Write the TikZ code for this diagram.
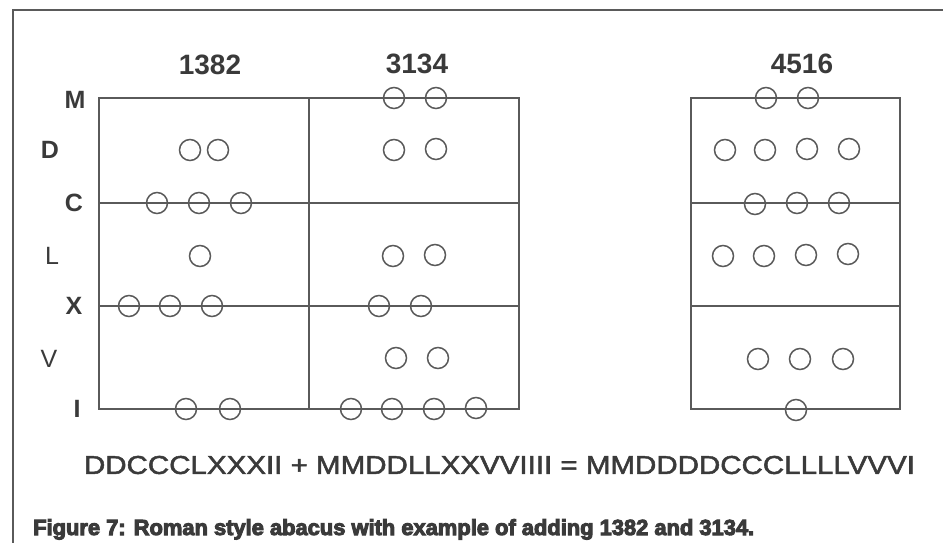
\documentclass[tikz,border=0pt]{standalone}
\usepackage{fontspec}
\setmainfont{Liberation Sans}
\usepackage{graphicx}
\definecolor{ink}{HTML}{3A3A3A}
\definecolor{rule}{HTML}{5A5A5A}
\newcommand{\heavytext}[2]{\special{pdf:literal direct 2 Tr #1 w}#2\special{pdf:literal direct 0 Tr}}
\begin{document}
\begin{tikzpicture}[x=1pt,y=-1pt,
  gridline/.style={draw=rule,line width=1.8pt},
  frameline/.style={draw=rule,line width=2pt},
  bead/.style={circle,draw=rule,line width=1.5pt,minimum size=21pt,inner sep=0pt},
  header/.style={inner sep=0pt,text=ink,font=\fontsize{28}{28}\selectfont\bfseries},
  rowlab/.style={inner sep=0pt,text=ink,font=\fontsize{25}{25}\selectfont\bfseries},
  rowlabl/.style={inner sep=0pt,text=ink,font=\fontsize{25}{25}\selectfont}]
\useasboundingbox (0,0) rectangle (943,555);
% frame
\draw[frameline] (943,9.5) -- (12.5,9.5) -- (12.5,543);
% left abacus grid
\draw[gridline] (99,98) rectangle (519,409);
\draw[gridline] (99,203) -- (519,203);
\draw[gridline] (99,306) -- (519,306);
\draw[gridline] (309,98) -- (309,409);
% right abacus grid
\draw[gridline] (691,98) rectangle (900,409);
\draw[gridline] (691,203) -- (900,203);
\draw[gridline] (691,306) -- (900,306);
% headers
\node[header] (h1) at (210,65) {1382};
\node[header] (h2) at (417,64) {3134};
\node[header] (h3) at (802,64) {4516};
% row labels
\node[rowlab] (lM) at (75,100) {M};
\node[rowlab] (lD) at (50,150) {D};
\node[rowlab] (lC) at (74,203) {C};
\node[rowlabl] (lL) at (52,256) {L};
\node[rowlab] (lX) at (74,306) {X};
\node[rowlabl] (lV) at (49,359) {V};
\node[rowlab] (lI) at (77,409) {I};
% beads: 1382
\node[bead] (a1) at (190,150) {};
\node[bead] (a2) at (218,150) {};
\node[bead] (a3) at (157,203) {};
\node[bead] (a4) at (199,203) {};
\node[bead] (a5) at (241,203) {};
\node[bead] (a6) at (200,256) {};
\node[bead] (a7) at (129,306) {};
\node[bead] (a8) at (170,306) {};
\node[bead] (a9) at (212,306) {};
\node[bead] (a10) at (186,409) {};
\node[bead] (a11) at (230,409) {};
% beads: 3134
\node[bead] (b1) at (394,98) {};
\node[bead] (b2) at (436,98) {};
\node[bead] (b3) at (394,150) {};
\node[bead] (b4) at (436,149) {};
\node[bead] (b5) at (393,256) {};
\node[bead] (b6) at (435,255) {};
\node[bead] (b7) at (379,306) {};
\node[bead] (b8) at (421,306) {};
\node[bead] (b9) at (396,358) {};
\node[bead] (b10) at (438,358) {};
\node[bead] (b11) at (351,409) {};
\node[bead] (b12) at (392,409) {};
\node[bead] (b13) at (434,409) {};
\node[bead] (b14) at (476,408) {};
% beads: 4516
\node[bead] (c1) at (766,98) {};
\node[bead] (c2) at (808,98) {};
\node[bead] (c3) at (725,150) {};
\node[bead] (c4) at (765,150) {};
\node[bead] (c5) at (807,149) {};
\node[bead] (c6) at (849,149) {};
\node[bead] (c7) at (755,204) {};
\node[bead] (c8) at (797,203) {};
\node[bead] (c9) at (839,203) {};
\node[bead] (c10) at (723,256) {};
\node[bead] (c11) at (764,256) {};
\node[bead] (c12) at (806,255) {};
\node[bead] (c13) at (848,254) {};
\node[bead] (c14) at (758,359) {};
\node[bead] (c15) at (800,359) {};
\node[bead] (c16) at (843,359) {};
\node[bead] (c17) at (796,410) {};
% equation
\node[inner sep=0pt,text=ink] (eq) at (499.5,465)
  {\resizebox{831pt}{18pt}{\fontsize{28}{28}\selectfont\heavytext{0.5}{DDCCCLXXXII + MMDDLLXXVVIIII = MMDDDDCCCLLLLVVVI}}};
% caption
\node[inner sep=0pt,text=ink,anchor=base west] (cap) at (33,535)
  {\resizebox{721pt}{!}{\fontsize{20}{20}\selectfont\bfseries\heavytext{0.9}{Figure 7: Roman style abacus with example of adding 1382 and 3134.}}};
\end{tikzpicture}
\end{document}
